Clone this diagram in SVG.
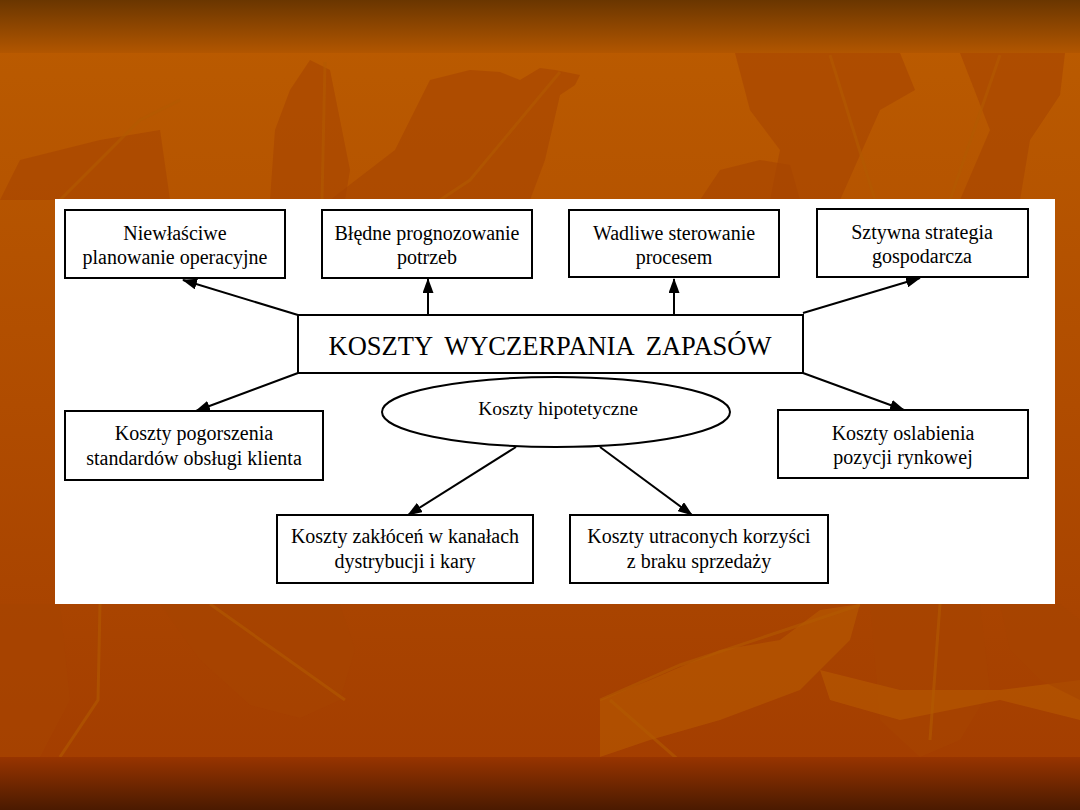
<svg xmlns="http://www.w3.org/2000/svg" width="1080" height="810" viewBox="0 0 1080 810">
  <defs>
    <linearGradient id="bgMain" x1="0" y1="0" x2="0" y2="1">
      <stop offset="0" stop-color="#bb5c00"/>
      <stop offset="0.5" stop-color="#b04c00"/>
      <stop offset="1" stop-color="#a23c00"/>
    </linearGradient>
    <linearGradient id="bgTop" x1="0" y1="0" x2="0" y2="1">
      <stop offset="0" stop-color="#6a3600"/>
      <stop offset="1" stop-color="#b25600"/>
    </linearGradient>
    <linearGradient id="bgBot" x1="0" y1="0" x2="0" y2="1">
      <stop offset="0" stop-color="#983400"/>
      <stop offset="1" stop-color="#4a1a00"/>
    </linearGradient>
    <marker id="arr" viewBox="0 0 15 11" refX="14" refY="5.5" markerWidth="15" markerHeight="11" markerUnits="userSpaceOnUse" orient="auto">
      <path d="M0,0 L15,5.5 L0,11 Z" fill="#000"/>
    </marker>
    <style>
      .box { fill: #fff; stroke: #000; stroke-width: 2; }
      .lbl { font-family: "Liberation Serif", "Times New Roman", serif; font-size: 20px; fill: #000; text-anchor: middle; }
      .title { font-family: "Liberation Serif", "Times New Roman", serif; font-size: 26.5px; fill: #000; text-anchor: middle; word-spacing: 6px; }
      .conn { stroke: #000; stroke-width: 2; fill: none; marker-end: url(#arr); }
      .leafD { fill: #a64400; opacity: 0.6; }
      .leafL { fill: #b85a00; opacity: 0.6; }
      .vein { stroke: #b25a00; stroke-width: 3; fill: none; opacity: 0.6; }
    </style>
  </defs>

  <g id="background">
    <rect x="0" y="0" width="1080" height="810" fill="url(#bgMain)"/>
    <polygon class="leafD" points="330,200 395,150 430,80 470,70 500,72 520,80 540,68 555,70 580,75 575,85 560,95 545,160 530,200"/>
    <polygon class="leafD" points="270,200 275,130 290,90 310,60 330,70 340,120 350,170 345,200"/>
    <path class="vein" d="M325,62 L322,200"/>
    <path class="vein" d="M560,72 L470,180 L440,200"/>
    <polygon class="leafD" points="735,53 900,53 915,90 880,110 840,200 770,200 780,150 750,110"/>
    <polygon class="leafD" points="960,53 1065,53 1060,95 1030,140 1020,200 960,200 990,130"/>
    <path class="vein" d="M830,55 L875,200"/>
    <path class="vein" d="M1000,55 L950,200"/>
    <polygon class="leafD" points="0,200 20,160 60,150 100,140 160,130 170,200"/>
    <path class="vein" d="M60,200 L140,120 L180,100"/>
    <polygon class="leafD" points="700,200 720,170 760,160 790,165 800,200"/>
    <polygon class="leafD" points="0,604 60,604 70,700 40,757 0,757"/>
    <path class="vein" d="M100,604 L98,700 L60,757"/>
    <polygon class="leafD" points="160,604 340,604 355,650 340,700 300,718 250,705 200,660"/>
    <path class="vein" d="M210,604 L345,700"/>
    <polygon class="leafL" points="600,700 650,680 720,650 780,640 820,610 860,604 850,640 800,690 720,720 650,740 600,757"/>
    <path class="vein" d="M600,700 L680,665 L860,605"/>
    <path class="vein" d="M610,700 L690,770"/>
    <polygon class="leafD" points="870,604 980,604 990,690 960,740 920,757 880,720"/>
    <polygon class="leafL" points="820,670 900,690 1000,690 1080,680 1080,720 1000,700 900,720 830,700"/>
    <path class="vein" d="M940,604 L930,740"/>
    <polygon class="leafD" points="1000,604 1060,604 1080,620 1080,700 1040,680 1010,650"/>
    <rect x="0" y="0" width="1080" height="53" fill="url(#bgTop)"/>
    <rect x="0" y="757" width="1080" height="53" fill="url(#bgBot)"/>
  </g>

  <rect id="panel" x="55" y="199" width="1000" height="405" fill="#fff"/>

  <g id="connectors">
    <line class="conn" x1="298" y1="315" x2="183" y2="280"/>
    <line class="conn" x1="428" y1="315" x2="428" y2="279"/>
    <line class="conn" x1="674" y1="315" x2="674" y2="279"/>
    <line class="conn" x1="803" y1="313" x2="920" y2="278"/>
    <line class="conn" x1="298" y1="373" x2="196" y2="411"/>
    <line class="conn" x1="803" y1="373" x2="904" y2="410"/>
    <line class="conn" x1="516" y1="447" x2="408" y2="515"/>
    <line class="conn" x1="600" y1="447" x2="692" y2="515"/>
  </g>

  <g id="n-niewlasciwe">
    <rect class="box" x="65" y="210" width="220" height="68"/>
    <text class="lbl" x="175" y="240">Niewłaściwe</text>
    <text class="lbl" x="175" y="264">planowanie operacyjne</text>
  </g>
  <g id="n-bledne">
    <rect class="box" x="322" y="210" width="210" height="68"/>
    <text class="lbl" x="427" y="240">Błędne prognozowanie</text>
    <text class="lbl" x="427" y="264">potrzeb</text>
  </g>
  <g id="n-wadliwe">
    <rect class="box" x="569" y="210" width="210" height="67"/>
    <text class="lbl" x="674" y="240">Wadliwe sterowanie</text>
    <text class="lbl" x="674" y="264">procesem</text>
  </g>
  <g id="n-sztywna">
    <rect class="box" x="817" y="209" width="211" height="68"/>
    <text class="lbl" x="922" y="239">Sztywna strategia</text>
    <text class="lbl" x="922" y="263">gospodarcza</text>
  </g>
  <g id="n-central">
    <rect class="box" x="298" y="315" width="505" height="58"/>
    <text class="title" x="550" y="355">KOSZTY WYCZERPANIA ZAPASÓW</text>
  </g>
  <g id="n-hipotetyczne">
    <ellipse class="box" cx="556" cy="412" rx="174" ry="35"/>
    <text class="lbl" x="558" y="415" style="font-size:19.5px">Koszty hipotetyczne</text>
  </g>
  <g id="n-pogorszenia">
    <rect class="box" x="65" y="411" width="258" height="69"/>
    <text class="lbl" x="194" y="440">Koszty pogorszenia</text>
    <text class="lbl" x="194" y="465">standardów obsługi klienta</text>
  </g>
  <g id="n-oslabienia">
    <rect class="box" x="778" y="410" width="250" height="68"/>
    <text class="lbl" x="903" y="440">Koszty oslabienia</text>
    <text class="lbl" x="903" y="464">pozycji rynkowej</text>
  </g>
  <g id="n-zaklocen">
    <rect class="box" x="277" y="515" width="256" height="68"/>
    <text class="lbl" x="405" y="543">Koszty zakłóceń w kanałach</text>
    <text class="lbl" x="405" y="568">dystrybucji i kary</text>
  </g>
  <g id="n-utraconych">
    <rect class="box" x="570" y="515" width="258" height="68"/>
    <text class="lbl" x="699" y="543">Koszty utraconych korzyści</text>
    <text class="lbl" x="699" y="568">z braku sprzedaży</text>
  </g>
</svg>
